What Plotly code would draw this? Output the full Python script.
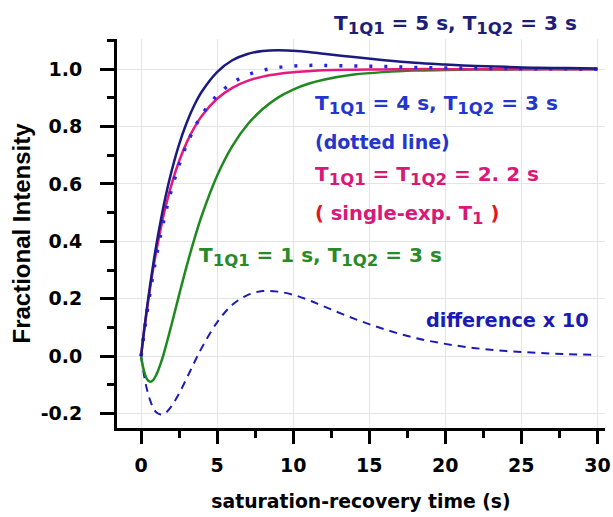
import plotly.graph_objects as go

# ---- data ----
time_s = [0, 0.2, 0.4, 0.6, 0.8, 1.0, 1.3, 1.6, 2.0, 2.5, 3, 3.5, 4, 5, 6, 7, 8, 9, 10,
          11, 12, 14, 16, 18, 20, 22, 24, 26, 28, 30]
t1q1_5_t1q2_3 = [0, 0.090, 0.173, 0.249, 0.320, 0.386, 0.474, 0.553, 0.643, 0.737, 0.813,
                 0.874, 0.922, 0.990, 1.031, 1.053, 1.063, 1.066, 1.064, 1.060, 1.054, 1.042,
                 1.031, 1.022, 1.016, 1.011, 1.008, 1.005, 1.004, 1.002]
t1q1_4_t1q2_3 = [0, 0.080, 0.155, 0.223, 0.287, 0.346, 0.426, 0.497, 0.580, 0.666, 0.737,
                 0.794, 0.841, 0.909, 0.952, 0.980, 0.996, 1.006, 1.011, 1.013, 1.013, 1.011,
                 1.009, 1.006, 1.004, 1.003, 1.002, 1.001, 1.001, 1.000]
single_exp_2_2 = [0, 0.087, 0.166, 0.239, 0.305, 0.365, 0.446, 0.517, 0.597, 0.679, 0.744,
                  0.796, 0.838, 0.897, 0.935, 0.959, 0.974, 0.983, 0.989, 0.993, 0.996, 0.998,
                  0.999, 1.000, 1.000, 1.000, 1.000, 1.000, 1.000, 1.000]
t1q1_1_t1q2_3 = [0, -0.052, -0.080, -0.089, -0.083, -0.065, -0.024, 0.029, 0.109, 0.213, 0.314,
                 0.407, 0.491, 0.629, 0.732, 0.807, 0.861, 0.901, 0.929, 0.949, 0.963, 0.981,
                 0.990, 0.995, 0.997, 0.999, 0.999, 1.000, 1.000, 1.000]
difference_x10 = [0, -0.067, -0.118, -0.154, -0.180, -0.195, -0.203, -0.198, -0.174, -0.130,
                  -0.077, -0.022, 0.030, 0.118, 0.179, 0.213, 0.227, 0.225, 0.214, 0.196, 0.174,
                  0.131, 0.094, 0.064, 0.043, 0.028, 0.018, 0.012, 0.007, 0.005]

x_tick_vals = [0, 5, 10, 15, 20, 25, 30]
x_tick_text = ["0", "5", "10", "15", "20", "25", "30"]
y_tick_vals = [-0.2, 0.0, 0.2, 0.4, 0.6, 0.8, 1.0]
y_tick_text = ["-0.2", "0.0", "0.2", "0.4", "0.6", "0.8", "1.0"]

LIB = "Liberation Sans, Arial, sans-serif"
DJV = "DejaVu Sans, Verdana, sans-serif"

NAVY = "#1b1b7e"
BLUE_DOT = "#2424ee"
PINK = "#e41a7f"
GREEN = "#1e8a1e"
DASH_BLUE = "#1c1cb4"

fig = go.Figure()
fig.add_trace(go.Scatter(x=time_s, y=difference_x10, mode="lines", line_shape="spline",
                         line=dict(color=DASH_BLUE, width=2, dash="8px,6px")))
fig.add_trace(go.Scatter(x=time_s, y=t1q1_1_t1q2_3, mode="lines", line_shape="spline",
                         line=dict(color=GREEN, width=2.5)))
fig.add_trace(go.Scatter(x=time_s, y=single_exp_2_2, mode="lines", line_shape="spline",
                         line=dict(color=PINK, width=2.5)))
fig.add_trace(go.Scatter(x=time_s, y=t1q1_4_t1q2_3, mode="lines", line_shape="spline",
                         line=dict(color=BLUE_DOT, width=3.5, dash="3px,12px")))
fig.add_trace(go.Scatter(x=time_s, y=t1q1_5_t1q2_3, mode="lines", line_shape="spline",
                         line=dict(color=NAVY, width=2.5)))


def sub(s, size=16.5):
    return "<sub><span style='font-size:%.1fpx'>%s</span></sub>" % (size, s)


RED = "#e8141e"
ann = [
    # x, y, yref, text, colour, size
    (12.57, 1.036, "paper", "T" + sub("1Q1") + " = 5 s, T" + sub("1Q2") + " = 3 s", "#1e1e78", 20),
    (11.32, 0.876, "y", "T" + sub("1Q1") + " = 4 s, T" + sub("1Q2") + " = 3 s", "#2436cc", 20),
    (11.32, 0.747, "y", "(dotted line)", "#2436cc", 19),
    (11.32, 0.628, "y", "T" + sub("1Q1") + " = T" + sub("1Q2") + " = 2. 2 s", "#d8197a", 20),
    (11.32, 0.492, "y", "<span style='color:%s'>(</span> single-exp. T" % RED + sub("1")
     + " <span style='color:%s'>)</span>" % RED, "#d8197a", 19.5),
    (3.68, 0.346, "y", "T" + sub("1Q1") + " = 1 s, T" + sub("1Q2") + " = 3 s", "#2a8a2a", 20),
    (18.6, 0.126, "y", "difference x 10", "#1a1ab4", 19.3),
]
for x, y, yref, txt, col, sz in ann:
    fig.add_annotation(x=x, y=y, xref="x", yref=yref, text=txt, showarrow=False,
                       xanchor="left", yanchor="middle",
                       font=dict(family=DJV, size=sz, color=col, weight="bold"))

fig.update_layout(
    width=613, height=517,
    margin=dict(l=117, r=8, t=39, b=89),
    paper_bgcolor="white", plot_bgcolor="white",
    showlegend=False,
    font=dict(family=LIB, color="black"),
)
fig.update_xaxes(
    range=[-1.58, 30.5], showline=True, linecolor="black", linewidth=3,
    tickvals=x_tick_vals, ticktext=x_tick_text, automargin=False,
    ticks="outside", ticklen=13, tickwidth=3, tickcolor="black",
    tickfont=dict(family=DJV, size=19, color="black", weight="bold"),
    ticklabelstandoff=5,
    showgrid=True, gridcolor="#e4e4e4", gridwidth=1, zeroline=False,
    minor=dict(dtick=2.5, tick0=0, ticks="outside", ticklen=7, tickwidth=3,
               tickcolor="black", showgrid=False),
    title=dict(text="saturation-recovery time (s)",
               font=dict(family=DJV, size=18.8, color="black", weight="bold"), standoff=21),
)
fig.update_yaxes(
    range=[-0.25, 1.105], showline=True, linecolor="black", linewidth=3,
    tickvals=y_tick_vals, ticktext=y_tick_text, automargin=False,
    ticks="outside", ticklen=14, tickwidth=3, tickcolor="black",
    tickfont=dict(family=DJV, size=19, color="black", weight="bold"),
    ticklabelstandoff=14,
    showgrid=True, gridcolor="#e4e4e4", gridwidth=1, zeroline=False,
    minor=dict(dtick=0.1, tick0=0, ticks="outside", ticklen=7, tickwidth=3,
               tickcolor="black", showgrid=False),
    title=dict(text="Fractional Intensity",
               font=dict(family=LIB, size=24, color="black", weight="bold"), standoff=4),
)

fig.write_html("out.html",
               config={"displayModeBar": False},
               post_script="document.body.style.margin='0';document.body.style.overflow='hidden';")
